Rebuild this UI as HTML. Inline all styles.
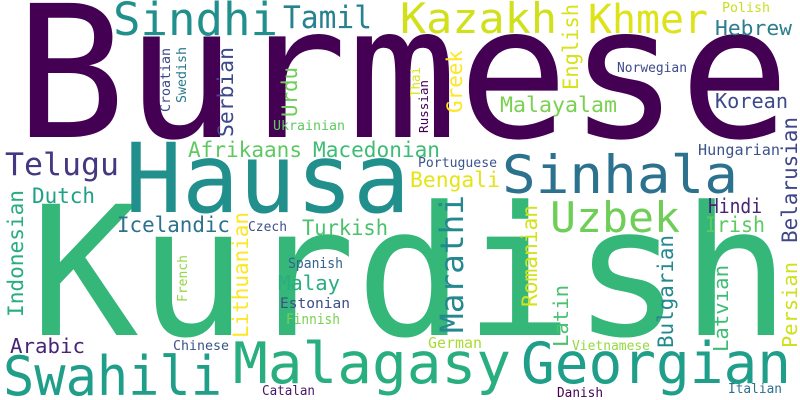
<!DOCTYPE html>
<html><head><meta charset="utf-8"><style>
html,body{margin:0;padding:0;background:#fff;}
svg{display:block;font-family:"DejaVu Sans Mono","Liberation Mono",monospace;}
</style></head><body>
<svg width="800" height="400" viewBox="0 0 800 400">
<rect width="800" height="400" fill="#fff"/>
<g>
<text x="15" y="137" font-size="184" fill="#440154" textLength="775" lengthAdjust="spacingAndGlyphs">Burmese</text>
<text x="30" y="335" font-size="180" fill="#35b779" textLength="760" lengthAdjust="spacingAndGlyphs">Kurdish</text>
<text x="125" y="212" font-size="96" fill="#21908d" textLength="285" lengthAdjust="spacingAndGlyphs">Hausa</text>
<text x="502" y="193" font-size="53" fill="#2c728e" textLength="236" lengthAdjust="spacingAndGlyphs">Sinhala</text>
<text x="3" y="395" font-size="54" fill="#1f9e89" textLength="219" lengthAdjust="spacingAndGlyphs">Swahili</text>
<text x="233" y="383" font-size="57" fill="#29af7f" textLength="278" lengthAdjust="spacingAndGlyphs">Malagasy</text>
<text x="521" y="383" font-size="57" fill="#1f9e89" textLength="270" lengthAdjust="spacingAndGlyphs">Georgian</text>
<text x="550" y="232" font-size="42" fill="#6ece58" textLength="130" lengthAdjust="spacingAndGlyphs">Uzbek</text>
<text x="5" y="175" font-size="31" fill="#453781" textLength="114" lengthAdjust="spacingAndGlyphs">Telugu</text>
<text x="113" y="35" font-size="45" fill="#21908d" textLength="165" lengthAdjust="spacingAndGlyphs">Sindhi</text>
<text x="283" y="28" font-size="31" fill="#26828e" textLength="89" lengthAdjust="spacingAndGlyphs">Tamil</text>
<text x="400" y="33" font-size="42" fill="#d0e11c" textLength="157" lengthAdjust="spacingAndGlyphs">Kazakh</text>
<text x="588" y="33" font-size="40" fill="#dde318" textLength="120" lengthAdjust="spacingAndGlyphs">Khmer</text>
<text x="722" y="12" font-size="13" fill="#c8e020" textLength="48" lengthAdjust="spacingAndGlyphs">Polish</text>
<text x="715" y="35" font-size="20" fill="#2c7e8e" textLength="77" lengthAdjust="spacingAndGlyphs">Hebrew</text>
<text x="500" y="112" font-size="21" fill="#7ad151" textLength="117" lengthAdjust="spacingAndGlyphs">Malayalam</text>
<text x="617" y="72" font-size="13" fill="#3e4a89" textLength="70" lengthAdjust="spacingAndGlyphs">Norwegian</text>
<text x="715" y="108" font-size="20" fill="#3e4989" textLength="73" lengthAdjust="spacingAndGlyphs">Korean</text>
<text x="273" y="130" font-size="13" fill="#5ec962" textLength="72" lengthAdjust="spacingAndGlyphs">Ukrainian</text>
<text x="188" y="157" font-size="21" fill="#5ec962" textLength="114" lengthAdjust="spacingAndGlyphs">Afrikaans</text>
<text x="313" y="157" font-size="21" fill="#3dbc74" textLength="127" lengthAdjust="spacingAndGlyphs">Macedonian</text>
<text x="418" y="167" font-size="13" fill="#3a548c" textLength="79" lengthAdjust="spacingAndGlyphs">Portuguese</text>
<text x="410" y="187" font-size="21" fill="#e5e419" textLength="90" lengthAdjust="spacingAndGlyphs">Bengali</text>
<text x="698" y="155" font-size="15" fill="#3b528b" textLength="82" lengthAdjust="spacingAndGlyphs">Hungarian</text>
<text x="32" y="203" font-size="21" fill="#1fa187" textLength="63" lengthAdjust="spacingAndGlyphs">Dutch</text>
<text x="117" y="232" font-size="21" fill="#2c718e" textLength="113" lengthAdjust="spacingAndGlyphs">Icelandic</text>
<text x="302" y="235" font-size="21" fill="#4ac16d" textLength="86" lengthAdjust="spacingAndGlyphs">Turkish</text>
<text x="248" y="231" font-size="13" fill="#3b528b" textLength="39" lengthAdjust="spacingAndGlyphs">Czech</text>
<text x="708" y="213" font-size="20" fill="#482475" textLength="54" lengthAdjust="spacingAndGlyphs">Hindi</text>
<text x="705" y="232" font-size="21" fill="#5ec962" textLength="60" lengthAdjust="spacingAndGlyphs">Irish</text>
<text x="288" y="268" font-size="14" fill="#33638d" textLength="55" lengthAdjust="spacingAndGlyphs">Spanish</text>
<text x="278" y="290" font-size="20" fill="#29af7f" textLength="62" lengthAdjust="spacingAndGlyphs">Malay</text>
<text x="280" y="308" font-size="14" fill="#3d4e8a" textLength="70" lengthAdjust="spacingAndGlyphs">Estonian</text>
<text x="286" y="324" font-size="14" fill="#7ad151" textLength="54" lengthAdjust="spacingAndGlyphs">Finnish</text>
<text x="10" y="353" font-size="20" fill="#482475" textLength="75" lengthAdjust="spacingAndGlyphs">Arabic</text>
<text x="173" y="350" font-size="13" fill="#3b528b" textLength="56" lengthAdjust="spacingAndGlyphs">Chinese</text>
<text x="428" y="348" font-size="15" fill="#a8db34" textLength="54" lengthAdjust="spacingAndGlyphs">German</text>
<text x="572" y="350" font-size="13" fill="#95d840" textLength="78" lengthAdjust="spacingAndGlyphs">Vietnamese</text>
<text x="262" y="395" font-size="13" fill="#481567" textLength="53" lengthAdjust="spacingAndGlyphs">Catalan</text>
<text x="557" y="397" font-size="13" fill="#440154" textLength="46" lengthAdjust="spacingAndGlyphs">Danish</text>
<text x="728" y="393" font-size="13" fill="#2d708e" textLength="54" lengthAdjust="spacingAndGlyphs">Italian</text>

<text transform="translate(578,90) rotate(-90)" font-size="21" fill="#d8e219" textLength="86" lengthAdjust="spacingAndGlyphs">English</text>
<text transform="translate(462,113) rotate(-90)" font-size="21" fill="#fde725" textLength="63" lengthAdjust="spacingAndGlyphs">Greek</text>
<text transform="translate(420,97) rotate(-90)" font-size="13" fill="#d8e219" textLength="30" lengthAdjust="spacingAndGlyphs">Thai</text>
<text transform="translate(428,133) rotate(-90)" font-size="12" fill="#440154" textLength="53" lengthAdjust="spacingAndGlyphs">Russian</text>
<text transform="translate(297,117) rotate(-90)" font-size="21" fill="#6ece58" textLength="50" lengthAdjust="spacingAndGlyphs">Urdu</text>
<text transform="translate(233,137) rotate(-90)" font-size="21" fill="#3e4989" textLength="90" lengthAdjust="spacingAndGlyphs">Serbian</text>
<text transform="translate(170,112) rotate(-90)" font-size="13" fill="#3e4989" textLength="64" lengthAdjust="spacingAndGlyphs">Croatian</text>
<text transform="translate(186,103) rotate(-90)" font-size="13" fill="#2a788e" textLength="56" lengthAdjust="spacingAndGlyphs">Swedish</text>
<text transform="translate(248,338) rotate(-90)" font-size="21" fill="#fde725" textLength="126" lengthAdjust="spacingAndGlyphs">Lithuanian</text>
<text transform="translate(797,243) rotate(-90)" font-size="21" fill="#3f4788" textLength="126" lengthAdjust="spacingAndGlyphs">Belarusian</text>
<text transform="translate(463,333) rotate(-90)" font-size="32" fill="#23898e" textLength="138" lengthAdjust="spacingAndGlyphs">Marathi</text>
<text transform="translate(23,317) rotate(-90)" font-size="21" fill="#27ad81" textLength="127" lengthAdjust="spacingAndGlyphs">Indonesian</text>
<text transform="translate(187,302) rotate(-90)" font-size="13" fill="#8fd744" textLength="47" lengthAdjust="spacingAndGlyphs">French</text>
<text transform="translate(537,307) rotate(-90)" font-size="21" fill="#d5e21a" textLength="102" lengthAdjust="spacingAndGlyphs">Romanian</text>
<text transform="translate(568,347) rotate(-90)" font-size="20" fill="#4ac16d" textLength="62" lengthAdjust="spacingAndGlyphs">Latin</text>
<text transform="translate(673,348) rotate(-90)" font-size="21" fill="#23898e" textLength="113" lengthAdjust="spacingAndGlyphs">Bulgarian</text>
<text transform="translate(728,352) rotate(-90)" font-size="20" fill="#3dbc74" textLength="87" lengthAdjust="spacingAndGlyphs">Latvian</text>
<text transform="translate(797,348) rotate(-90)" font-size="20" fill="#d0e11c" textLength="86" lengthAdjust="spacingAndGlyphs">Persian</text>
</g>
</svg>
</body></html>
